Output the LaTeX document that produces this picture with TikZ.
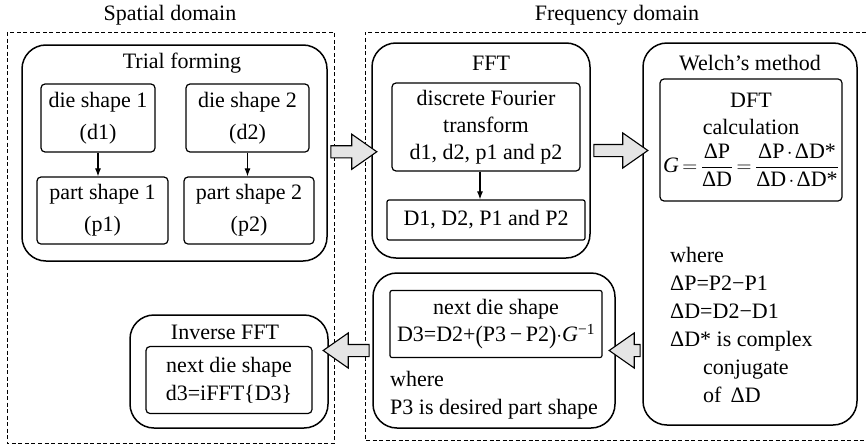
\documentclass[tikz,border=0pt]{standalone}
\usepackage{fontspec}
\setmainfont{Liberation Serif}
\usepackage{amsmath}
\usetikzlibrary{calc,shapes.arrows,arrows.meta}

\tikzset{
  outerbox/.style={draw, line width=1.5pt, rounded corners=24pt, inner sep=0pt},
  innerbox/.style={draw, line width=1.2pt, rounded corners=4pt, align=center, inner sep=0pt},
  domainframe/.style={line width=0.9pt, dash pattern=on 4pt off 2.5pt},
  fatarrow/.style={single arrow, draw, line width=1.1pt, fill=black!10, inner xsep=0pt, inner ysep=5.5pt,
    single arrow head extend=11.5pt, single arrow tip angle=70},
  thinarrow/.style={-{Latex[length=8pt,width=6pt]}, line width=1.1pt}
}

\begin{document}
\begin{tikzpicture}[x=1pt, y=-1pt, font=\fontsize{22}{28}\selectfont]
			%%%%% START %%%%%
			\useasboundingbox (0,0) rectangle (866,447);
			
			% domains
			\draw[domainframe] (7,32) rectangle (334,443);
			\draw[domainframe] (866,32) -- (365,32) -- (365,440) -- (866,440);
			\node (spatiallbl) at (170,15) {Spatial domain};
			\node (freqlbl) at (617,15) {Frequency domain};
			
			% trial forming
			\node[outerbox, minimum width=305pt, minimum height=216pt] (trial) at (174.5,153) {};
			\node (trialtitle) at (182,63) {Trial forming};
			\node[innerbox, minimum width=114pt, minimum height=68pt, font=\fontsize{22}{32}\selectfont] (dieone) at (98,118) {die shape 1\\(d1)};
			\node[innerbox, minimum width=123pt, minimum height=68pt, font=\fontsize{22}{32}\selectfont] (dietwo) at (247.5,118) {die shape 2\\(d2)};
			\node[innerbox, minimum width=131pt, minimum height=67pt, font=\fontsize{22}{32}\selectfont] (partone) at (102.5,210.5) {part shape 1\\(p1)};
			\node[innerbox, minimum width=130pt, minimum height=67pt, font=\fontsize{22}{32}\selectfont] (parttwo) at (249,210.5) {part shape 2\\(p2)};
			\draw[thinarrow] (dieone.south) -- (dieone.south |- partone.north);
			\draw[thinarrow] (dietwo.south) -- (dietwo.south |- parttwo.north);
			
			% FFT
			\node[outerbox, minimum width=218pt, minimum height=215pt] (fft) at (481,150.5) {};
			\node (ffttitle) at (491,63) {FFT};
			\node[innerbox, minimum width=188pt, minimum height=88pt, font=\fontsize{22}{27}\selectfont] (dftin) at (486,127) {discrete Fourier\\transform\\d1, d2, p1 and p2};
			\node[innerbox, rounded corners=2pt, minimum width=198pt, minimum height=40pt] (dftout) at (486,220) {D1, D2, P1 and P2};
			\draw[thinarrow] (dftin.south -| 480,0) -- (dftout.north -| 480,0);
			
			% Welch
			\node[outerbox, minimum width=214pt, minimum height=382pt] (welch) at (750,234) {};
			\node (welchtitle) at (750,63) {Welch's method};
			\node[innerbox, minimum width=182pt, minimum height=122pt] (dftcalc) at (751,140) {};
			\node[align=center, inner sep=0pt, font=\fontsize{22}{27}\selectfont] (dftcalctext) at (751,140)
				{DFT\\calculation\\[8pt]$\thickmuskip=3mu\medmuskip=2mu
				\textit{G}=\dfrac{\text{ΔP}}{\text{ΔD}}=\dfrac{\text{ΔP}\cdot\text{ΔD*}}{\text{ΔD}\cdot\text{ΔD*}}$};
			\node[anchor=north west, align=left, inner sep=0pt, font=\fontsize{22}{28}\selectfont] (welchnotes) at (670,247)
				{where\\ΔP=P2−P1\\ΔD=D2−D1\\ΔD* is complex\\\hspace*{33pt}conjugate\\\hspace*{33pt}of\, ΔD};
			
			% next die shape
			\node[outerbox, minimum width=242pt, minimum height=155pt] (nextdie) at (494,350.5) {};
			\node[innerbox, rounded corners=2pt, minimum width=212pt, minimum height=67pt, font=\fontsize{22}{25}\selectfont] (nextform) at (496,324)
				{next die shape\\[2pt]D3=D2+\raisebox{-1.5pt}{\scalebox{1}[1.15]{(}}P3\,−\,P2\raisebox{-1.5pt}{\scalebox{1}[1.15]{)}}$\cdot$\textit{G}\textsuperscript{−1}};
			\node[anchor=north west, align=left, inner sep=0pt] (nextnotes) at (390,371) {where\\P3 is desired part shape};
			
			% inverse FFT
			\node[outerbox, minimum width=198pt, minimum height=113pt] (inverse) at (229,371.5) {};
			\node (invtitle) at (225,332) {Inverse FFT};
			\node[innerbox, minimum width=166pt, minimum height=67pt, font=\fontsize{22}{28}\selectfont] (invin) at (229,380) {next die shape\\d3=iFFT\{D3\}};
			
			% block arrows
			\node[fatarrow, minimum height=46pt] (arrone) at ($(trial.east)!0.5!(fft.west)$) {};
			\node[fatarrow, minimum height=54pt] (arrtwo) at ($(fft.east)!0.5!(fft.east -| welch.west)$) {};
			\node[fatarrow, shape border rotate=180, minimum height=31pt] (arrthree) at ($(nextdie.east)!0.5!(nextdie.east -| welch.west)$) {};
			\node[fatarrow, shape border rotate=180, minimum height=46pt] (arrfour) at ($(inverse.east |- nextdie.west)!0.5!(nextdie.west)$) {};
			
			%%%%% END %%%%%
\end{tikzpicture}
\end{document}
